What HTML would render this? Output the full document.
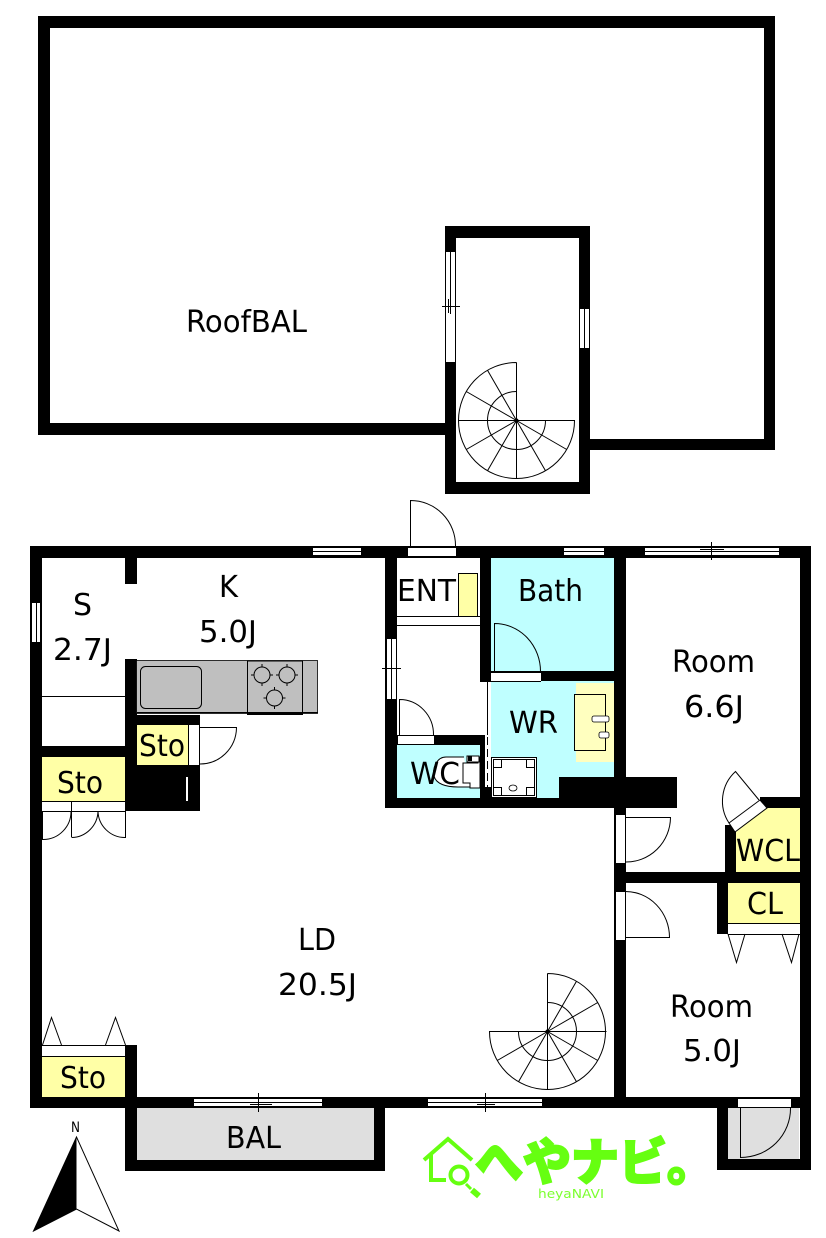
<!DOCTYPE html>
<html><head><meta charset="utf-8"><style>
html,body{margin:0;padding:0;background:#fff;width:826px;height:1238px;overflow:hidden}
svg{display:block}
.t{font-family:"DejaVu Sans","Liberation Sans",sans-serif;font-size:30px;fill:#000}
.l{fill:none;stroke:#000;stroke-width:1}
.w{shape-rendering:crispEdges}
</style></head><body>
<svg width="826" height="1238" viewBox="0 0 826 1238" xmlns="http://www.w3.org/2000/svg">
<!-- fills -->
<g class="w">
<rect x="491" y="557" width="123" height="114" fill="#bfffff"/>
<rect x="491" y="681" width="123" height="117" fill="#bfffff"/>
<rect x="397" y="745" width="83" height="53" fill="#bfffff"/>
<rect x="576" y="683" width="38" height="79" fill="#ffffbf"/>
<rect x="42" y="757" width="83" height="44" fill="#ffffa6"/>
<rect x="42" y="1057" width="83" height="40" fill="#ffffa6"/>
<rect x="728" y="883" width="72" height="40" fill="#ffffa6"/>
<rect x="137" y="1108" width="237" height="52" fill="#dfdfdf"/>
<rect x="728" y="1108" width="71" height="51" fill="#dfdfdf"/>
</g>
<polygon points="736,832 767,808 800,808 800,872 736,872" fill="#ffffa6"/>
<rect x="458.5" y="573.5" width="19" height="44" fill="#ffffa6" stroke="#000"/>

<!-- roof walls -->
<g class="w" fill="#000">
<rect x="38" y="16" width="737" height="12"/>
<rect x="38" y="16" width="12" height="419"/>
<rect x="764" y="16" width="11" height="434"/>
<rect x="38" y="423" width="408" height="12"/>
<rect x="589" y="439" width="186" height="11"/>
<rect x="445" y="226" width="145" height="12"/>
<rect x="445" y="226" width="11" height="268"/>
<rect x="579" y="226" width="11" height="268"/>
<rect x="445" y="482" width="145" height="12"/>
<!-- main walls -->
<rect x="30" y="546" width="781" height="12"/>
<rect x="30" y="546" width="12" height="562"/>
<rect x="800" y="546" width="11" height="624"/>
<rect x="30" y="1097" width="781" height="11"/>
<rect x="125" y="557" width="12" height="27"/>
<rect x="125" y="659" width="12" height="152"/>
<rect x="125" y="715" width="75" height="96"/>
<rect x="42" y="746" width="83" height="11"/>
<rect x="125" y="1045" width="12" height="52"/>
<rect x="125" y="1108" width="12" height="63"/>
<rect x="125" y="1160" width="260" height="11"/>
<rect x="374" y="1108" width="11" height="63"/>
<rect x="717" y="1108" width="11" height="62"/>
<rect x="717" y="1159" width="94" height="11"/>
<rect x="385" y="546" width="12" height="262"/>
<rect x="480" y="557" width="11" height="125"/>
<rect x="491" y="671" width="135" height="10"/>
<rect x="614" y="546" width="12" height="551"/>
<rect x="397" y="735" width="88" height="10"/>
<rect x="480" y="735" width="5" height="63"/>
<rect x="480" y="787" width="11" height="21"/>
<rect x="385" y="798" width="292" height="10"/>
<rect x="559" y="777" width="118" height="31"/>
<rect x="626" y="872" width="174" height="11"/>
<rect x="725" y="825" width="11" height="48"/>
<rect x="760" y="797" width="40" height="11"/>
<rect x="717" y="883" width="11" height="51"/>
</g>
<rect class="w" x="137" y="725" width="51" height="40" fill="#ffffa6"/>

<!-- openings -->
<g class="w" fill="#fff">
<rect x="446" y="252" width="9" height="110"/>
<rect x="580" y="309" width="9" height="39"/>
<rect x="313" y="547" width="48" height="9"/>
<rect x="408" y="547" width="48" height="9"/>
<rect x="564" y="547" width="40" height="9"/>
<rect x="645" y="547" width="134" height="9"/>
<rect x="31" y="603" width="10" height="39"/>
<rect x="386" y="639" width="10" height="60"/>
<rect x="491" y="672" width="50" height="9"/>
<rect x="398" y="735" width="36" height="9"/>
<rect x="485" y="745" width="6" height="42"/>
<rect x="188" y="725" width="11" height="40"/>
<rect x="615" y="815" width="10" height="48"/>
<rect x="615" y="892" width="10" height="48"/>
<rect x="194" y="1098" width="128" height="9"/>
<rect x="428" y="1098" width="114" height="9"/>
<rect x="738" y="1098" width="53" height="9"/>
<rect x="186" y="777" width="2" height="24"/>
<rect x="42" y="801" width="83" height="10"/>
<rect x="42" y="1046" width="83" height="11"/>
<rect x="728" y="923" width="72" height="11"/>
<rect x="397" y="617" width="83" height="7"/>
</g>
<polygon points="729,823 760,800 767,808 735,832" fill="#fff" stroke="#000"/>

<!-- window lines -->
<g class="l" shape-rendering="crispEdges">
<path d="M445.5 252V362M450.5 252V314M455.5 252V362M442 306.5H460M448.5 299V313"/>
<path d="M579.5 309V348M584.5 309V348M589.5 309V348"/>
<path d="M313 547.5H361M313 551.5H361M313 555.5H361"/>
<path d="M564 547.5H604M564 551.5H604M564 555.5H604"/>
<path d="M645 547.5H779M645 551.5H779M645 555.5H779M711.5 542V560M700 549.5H724"/>
<path d="M408 556.5H456M408 547.5H456"/>
<path d="M31.5 603V642M36.5 603V642M40.5 603V642"/>
<path d="M386.5 639V699M391.5 639V699M396.5 639V699M382 668.5H401M391.5 664V674"/>
<path d="M194 1098.5H322M194 1102.5H322M194 1106.5H322M258.5 1093V1112M250 1104.5H272"/>
<path d="M428 1098.5H542M428 1102.5H542M428 1106.5H542M485.5 1093V1112M477 1104.5H495"/>
<path d="M738 1098.5H791M738 1107.5H791"/>
<path d="M397 616.5H480M397 625.5H480"/>
<path d="M42 696.5H125"/>
<path d="M42 801.5H125M42 811.5H125M71.5 801V837"/>
<path d="M42 1045.5H125M42 1056.5H125"/>
<path d="M728 923.5H800M728 934.5H800"/>
<path d="M487.5 681V735"/>
<path d="M487.5 737V787" stroke-dasharray="8 4" stroke="#000"/>
<path d="M491 672.5H541M491 681.5H541M398 735.5H434M398 744.5H434"/>
<path d="M188.5 725V765M199.5 725V765"/>
<path d="M625.5 815V863M615.5 815V863M625.5 892V940M615.5 892V940"/>
</g>

<!-- doors -->
<g class="l">
<path d="M410.5 546V500.5A45 45 0 0 1 455.5 546"/>
<path d="M494.5 672V623.5A46 48 0 0 1 540.5 672"/>
<path d="M399.5 735V699.5A34 35 0 0 1 433.5 735"/>
<path d="M199 727.5H236.5A37 37 0 0 1 199 764"/>
<path d="M625 817.5H670.5A45 45 0 0 1 625 862"/>
<path d="M625 891.5A44 46 0 0 1 669.5 937.5H625"/>
<path d="M729 823A40 40 0 0 1 735.5 771.5L759 800"/>
<path d="M42.5 811V839.5A28 28 0 0 0 71 811"/>
<path d="M71.5 837.5A27 27 0 0 0 98 811A27 27 0 0 0 125.5 837.5V811"/>
<path d="M42.500 1045L51.500 1017.500L61.500 1045M105.500 1045L115.500 1017.500L125.500 1045"/>
<path d="M728 934L736.500 962.500L745 934M782 934L791.500 962.500L799 934"/>
<path d="M740.500 1108V1157.500A50 49 0 0 0 790.500 1108"/>
</g>

<!-- kitchen -->
<rect x="136.500" y="660.500" width="181" height="53" fill="#bfbfbf" stroke="#000" stroke-width="0.8"/>
<path class="l" d="M137 712.500H318"/>
<rect x="140.500" y="666.500" width="61" height="42" rx="5" fill="none" stroke="#000"/>
<rect x="247.500" y="661" width="55" height="52" fill="#bfbfbf" stroke="#000"/>
<rect x="247" y="712" width="56" height="3" fill="#000"/>
<g class="l">
<circle cx="262" cy="675" r="8"/><path d="M262 664V686M251 675H273" stroke-dasharray="3 16"/>
<circle cx="287" cy="675" r="8"/><path d="M287 664V686M276 675H298" stroke-dasharray="3 16"/>
<circle cx="274.500" cy="698" r="8"/><path d="M274.500 687V709M263.500 698H285.500" stroke-dasharray="3 16"/>
</g>

<!-- WR fixtures -->
<rect x="574.500" y="694.500" width="31" height="56" fill="#ffffbf" stroke="#000"/>
<rect x="592" y="716" width="17" height="6" rx="2" fill="#fff" stroke="#000" stroke-width="0.8"/>
<rect x="599" y="732" width="10" height="6" rx="2" fill="#fff" stroke="#000" stroke-width="0.8"/>
<rect x="491" y="757" width="46" height="41" fill="#fff"/>
<rect x="491.500" y="757.500" width="45" height="40" fill="#fff" stroke="#000"/>
<rect x="493.500" y="759.500" width="41" height="36" fill="#fff" stroke="#000"/>
<path class="l" d="M493.500 759.500h8v8h-8zM526.500 759.500h8v8h-8zM493.500 787.500h8v8h-8zM526.500 787.500h8v8h-8z"/>
<ellipse cx="513" cy="788" rx="4" ry="3" fill="none" stroke="#000" stroke-width="0.8"/>
<!-- toilet -->
<path d="M464 757H446C436 757 432 770 434 776C436 784 446 787 458 787H470" fill="#fff" stroke="#000"/>
<path d="M463 763H478V757H480V788H470V783H463Z" fill="#fff" stroke="#000"/>
<rect x="467" y="756" width="12" height="6" fill="#fff" stroke="#000"/>
<rect x="468" y="756" width="4" height="5" fill="#000"/>

<!-- spiral stairs -->
<g class="l">
<path d="M516.500 362.500A58 58 0 1 0 574.500 420.500H458.500M516.500 362.500V478.500"/>
<path d="M516.500 391.500A29 29 0 1 0 545.500 420.500"/>
<g>
<line x1="516.500" y1="420.500" x2="516.500" y2="362.500" transform="rotate(-30 516.500 420.500)"/>
<line x1="516.500" y1="420.500" x2="516.500" y2="362.500" transform="rotate(-60 516.500 420.500)"/>
<line x1="516.500" y1="420.500" x2="516.500" y2="362.500" transform="rotate(-120 516.500 420.500)"/>
<line x1="516.500" y1="420.500" x2="516.500" y2="362.500" transform="rotate(-150 516.500 420.500)"/>
<line x1="516.500" y1="420.500" x2="516.500" y2="362.500" transform="rotate(-210 516.500 420.500)"/>
<line x1="516.500" y1="420.500" x2="516.500" y2="362.500" transform="rotate(-240 516.500 420.500)"/>
</g>
<path d="M547.500 973.500A58 58 0 1 1 489.500 1031.500H606.500M547.500 973.500V1089.500"/>
<path d="M547.500 1002.500A29 29 0 1 1 518.500 1031.500"/>
<line x1="547.500" y1="1031.500" x2="547.500" y2="973.500" transform="rotate(30 547.500 1031.500)"/>
<line x1="547.500" y1="1031.500" x2="547.500" y2="973.500" transform="rotate(60 547.500 1031.500)"/>
<line x1="547.500" y1="1031.500" x2="547.500" y2="973.500" transform="rotate(120 547.500 1031.500)"/>
<line x1="547.500" y1="1031.500" x2="547.500" y2="973.500" transform="rotate(150 547.500 1031.500)"/>
<line x1="547.500" y1="1031.500" x2="547.500" y2="973.500" transform="rotate(210 547.500 1031.500)"/>
<line x1="547.500" y1="1031.500" x2="547.500" y2="973.500" transform="rotate(240 547.500 1031.500)"/>
</g>
<circle cx="516.500" cy="420.500" r="2" fill="#000"/>
<circle cx="547.500" cy="1031.500" r="2" fill="#000"/>

<!-- labels -->
<g class="t">
<text x="186" y="332" textLength="121" lengthAdjust="spacingAndGlyphs">RoofBAL</text>
<text x="73" y="615" textLength="19" lengthAdjust="spacingAndGlyphs">S</text>
<text x="53" y="660" textLength="59" lengthAdjust="spacingAndGlyphs">2.7J</text>
<text x="219" y="597" textLength="19" lengthAdjust="spacingAndGlyphs">K</text>
<text x="199" y="642" textLength="58" lengthAdjust="spacingAndGlyphs">5.0J</text>
<text x="397" y="601" textLength="59" lengthAdjust="spacingAndGlyphs">ENT</text>
<text x="518" y="601" textLength="65" lengthAdjust="spacingAndGlyphs">Bath</text>
<text x="509" y="733" textLength="49" lengthAdjust="spacingAndGlyphs">WR</text>
<text x="410" y="784" textLength="50" lengthAdjust="spacingAndGlyphs">WC</text>
<text x="672" y="672" textLength="83" lengthAdjust="spacingAndGlyphs">Room</text>
<text x="684" y="717" textLength="60" lengthAdjust="spacingAndGlyphs">6.6J</text>
<text x="736" y="861" textLength="64" lengthAdjust="spacingAndGlyphs">WCL</text>
<text x="747" y="914" textLength="36" lengthAdjust="spacingAndGlyphs">CL</text>
<text x="670" y="1017" textLength="83" lengthAdjust="spacingAndGlyphs">Room</text>
<text x="683" y="1061" textLength="58" lengthAdjust="spacingAndGlyphs">5.0J</text>
<text x="298" y="950" textLength="38" lengthAdjust="spacingAndGlyphs">LD</text>
<text x="278" y="995" textLength="79" lengthAdjust="spacingAndGlyphs">20.5J</text>
<text x="60" y="1088" textLength="46" lengthAdjust="spacingAndGlyphs">Sto</text>
<text x="57" y="793" textLength="46" lengthAdjust="spacingAndGlyphs">Sto</text>
<text x="139" y="756" textLength="46" lengthAdjust="spacingAndGlyphs">Sto</text>
<text x="226" y="1148" textLength="55" lengthAdjust="spacingAndGlyphs">BAL</text>
</g>

<!-- compass -->
<text x="71" y="1132" font-family="'DejaVu Sans',sans-serif" font-size="14" textLength="9" lengthAdjust="spacingAndGlyphs">N</text>
<polygon points="76.500,1137 33.500,1231 76.500,1209" fill="#000"/>
<path class="l" d="M76.500 1137L119 1231L76.500 1209L33.500 1231Z"/>

<!-- logo -->
<g fill="none" stroke="#66ff11" stroke-width="4">
<path d="M424 1160L448 1139L472 1160"/>
<path d="M431 1155V1180H446"/>
<circle cx="459" cy="1175" r="8.500"/>
<path d="M466 1184L471 1189" stroke-width="3"/>
<path d="M472 1190L479 1196" stroke-width="6"/>
</g>
<text x="475" y="1180" font-family="'Noto Sans CJK JP',sans-serif" font-weight="900" font-size="50" fill="#66ff11" stroke="#66ff11" stroke-width="2" textLength="240" lengthAdjust="spacingAndGlyphs">へやナビ。</text>
<text x="538" y="1198" font-family="'DejaVu Sans',sans-serif" font-size="12" fill="#7cff30" textLength="66" lengthAdjust="spacingAndGlyphs">heyaNAVI</text>
</svg>
</body></html>
